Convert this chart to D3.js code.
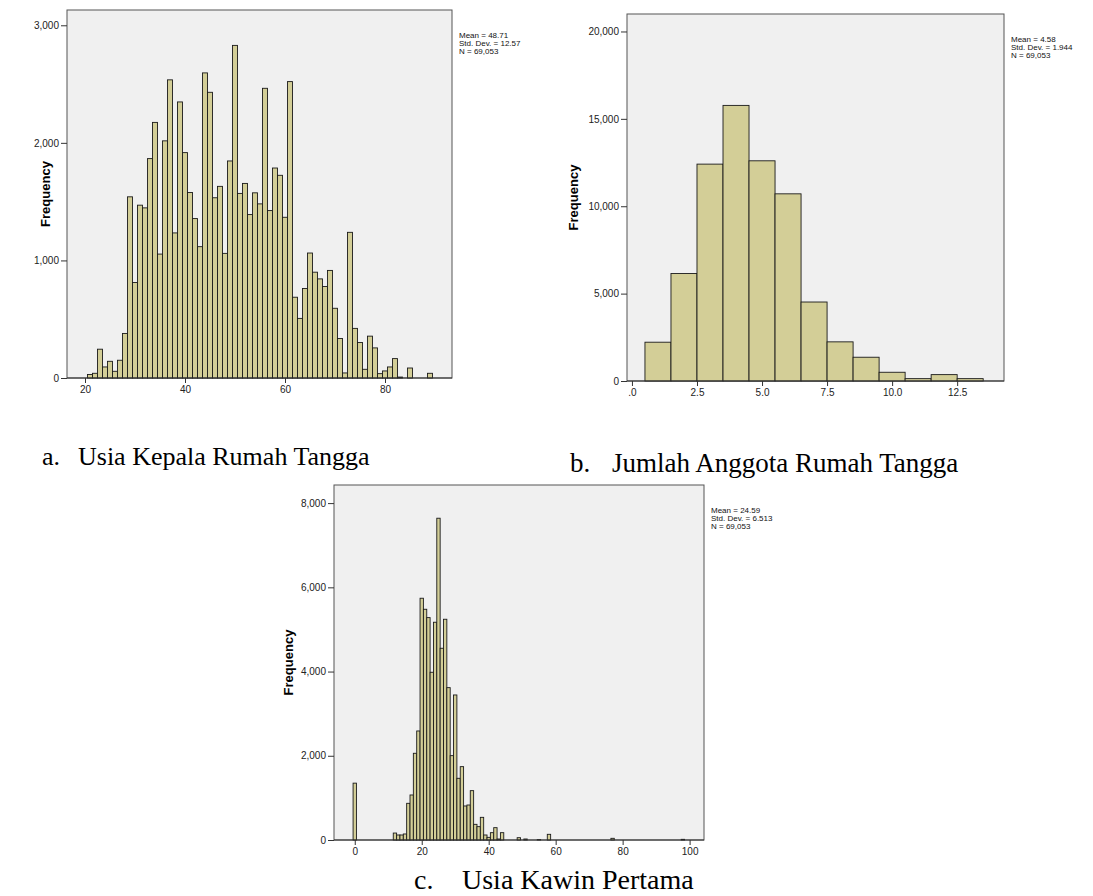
<!DOCTYPE html>
<html>
<head>
<meta charset="utf-8">
<script src="https://cdn.jsdelivr.net/npm/d3@7"></script>
<style>
  body { margin: 0; background: #fff; }
  svg text { font-family: Arial, "Liberation Sans", sans-serif; }
  .caption { font-family: "Times New Roman", "Liberation Serif", serif; fill: #000; }
</style>
</head>
<body>
<svg id="chart" width="1093" height="896"></svg>
<script>
// a. Usia Kepala Rumah Tangga - one-year bins centred on the age
var usiaKepalaAge = [21, 22, 23, 24, 25, 26, 27, 28, 29, 30, 31, 32, 33, 34, 35, 36, 37, 38, 39, 40,
  41, 42, 43, 44, 45, 46, 47, 48, 49, 50, 51, 52, 53, 54, 55, 56, 57, 58, 59, 60,
  61, 62, 63, 64, 65, 66, 67, 68, 69, 70, 71, 72, 73, 74, 75, 76, 77, 78, 79, 80,
  81, 82, 83, 85, 89];
var usiaKepalaFreq = [30, 40, 245, 94, 142, 57, 151, 379, 1541, 812, 1470, 1447, 1866, 2174, 1054, 2017, 2536, 1234, 2348, 1917,
  1578, 1356, 1117, 2595, 2430, 1533, 1630, 1060, 1846, 2829, 1570, 1655, 1390, 1575, 1481, 2464, 1424, 1786, 1724, 1367,
  2521, 687, 507, 761, 1063, 900, 843, 778, 915, 593, 336, 43, 1239, 422, 302, 74, 356, 256, 37, 60,
  94, 165, 8, 85, 40];
var usiaKepalaXTicks = [20, 40, 60, 80];
var usiaKepalaYTicks = [0, 1000, 2000, 3000];
var usiaKepalaStats = ["Mean = 48.71", "Std. Dev. = 12.57", "N = 69,053"];

// b. Jumlah Anggota Rumah Tangga
var jumlahAnggota = [1, 2, 3, 4, 5, 6, 7, 8, 9, 10, 11, 12, 13];
var jumlahAnggotaFreq = [2220, 6150, 12410, 15770, 12600, 10710, 4520, 2240, 1360, 500, 135, 365, 135];
var jumlahAnggotaXTicks = [0, 2.5, 5, 7.5, 10, 12.5];
var jumlahAnggotaXLabels = [".0", "2.5", "5.0", "7.5", "10.0", "12.5"];
var jumlahAnggotaYTicks = [0, 5000, 10000, 15000, 20000];
var jumlahAnggotaStats = ["Mean = 4.58", "Std. Dev. = 1.944", "N = 69,053"];

// c. Usia Kawin Pertama
var usiaKawin = [0, 12, 13, 14, 15, 16, 17, 18, 19, 20, 21, 22, 23, 24, 25, 26, 27, 28, 29, 30,
  31, 32, 33, 34, 35, 36, 37, 38, 39, 40, 41, 42, 43, 44, 49, 51, 55, 58, 77, 98];
var usiaKawinFreq = [1350, 165, 119, 119, 143, 871, 1069, 2059, 2589, 5741, 5479, 5281, 3983, 5171, 7641, 4553, 5242, 3618, 2003, 3444,
  1465, 1742, 808, 831, 1172, 372, 317, 538, 119, 63, 174, 293, 24, 174, 55, 24, 10, 135, 40, 16];
var usiaKawinXTicks = [0, 20, 40, 60, 80, 100];
var usiaKawinYTicks = [0, 2000, 4000, 6000, 8000];
var usiaKawinStats = ["Mean = 24.59", "Std. Dev. = 6.513", "N = 69,053"];

var svg = d3.select("#chart");
svg.append("rect").attr("width", 1093).attr("height", 896).attr("fill", "#fff");

function histogram(cfg) {
  var g = svg.append("g");
  var x = d3.scaleLinear().domain(cfg.xDomain).range([cfg.left, cfg.right]),
      y = d3.scaleLinear().domain(cfg.yDomain).range([cfg.bottom, cfg.top]);

  g.append("rect")
    .attr("x", cfg.left).attr("y", cfg.top)
    .attr("width", cfg.right - cfg.left).attr("height", cfg.bottom - cfg.top)
    .attr("fill", "#f0f0f0").attr("stroke", "#555").attr("stroke-width", 1);

  var data = cfg.bins.map(function(b, i) { return {bin: b, freq: cfg.freq[i]}; });
  g.selectAll(".bar")
    .data(data)
    .enter().append("rect")
    .attr("class", "bar")
    .attr("x", function(d) { return x(d.bin - 0.5); })
    .attr("y", function(d) { return y(d.freq); })
    .attr("width", function(d) { return x(d.bin + 0.5) - x(d.bin - 0.5); })
    .attr("height", function(d) { return y(0) - y(d.freq); })
    .attr("fill", "#d3ce97")
    .attr("stroke", "#1a1a1a")
    .attr("stroke-width", 0.9);

  var yAxis = g.append("g")
    .attr("transform", "translate(" + cfg.left + ",0)")
    .call(d3.axisLeft(y).tickValues(cfg.yTicks).tickFormat(d3.format(",")).tickSize(6).tickPadding(2));
  var xAxis = g.append("g")
    .attr("transform", "translate(0," + cfg.bottom + ")")
    .call(d3.axisBottom(x).tickValues(cfg.xTicks)
      .tickFormat(function(d, i) { return cfg.xLabels ? cfg.xLabels[i] : d; })
      .tickSize(5).tickPadding(3));
  [xAxis, yAxis].forEach(function(ax) {
    ax.select(".domain").remove();
    ax.selectAll("line").attr("stroke", "#333");
    ax.selectAll("text").attr("font-size", 10).attr("fill", "#222")
      .attr("font-family", "Arial, 'Liberation Sans', sans-serif");
  });
  g.append("line")
    .attr("x1", cfg.left).attr("x2", cfg.right)
    .attr("y1", cfg.bottom).attr("y2", cfg.bottom)
    .attr("stroke", "#333");

  g.append("text")
    .attr("transform", "translate(" + cfg.yLabelX + "," + ((cfg.top + cfg.bottom) / 2) + ") rotate(-90)")
    .attr("text-anchor", "middle")
    .attr("dy", "0.35em")
    .attr("font-size", 13)
    .attr("font-weight", "bold")
    .text("Frequency");

  // SPSS summary box, clipped on the right like the original export
  var clipId = "clip" + cfg.id;
  svg.append("clipPath").attr("id", clipId)
    .append("rect").attr("x", cfg.right + 1).attr("y", cfg.top)
    .attr("width", cfg.statsClip).attr("height", 80);
  g.append("g").attr("clip-path", "url(#" + clipId + ")")
    .selectAll("text")
    .data(cfg.stats)
    .enter().append("text")
    .attr("x", cfg.right + 7)
    .attr("y", function(d, i) { return cfg.statsY + i * 8.2; })
    .attr("font-size", 8)
    .attr("fill", "#111")
    .text(function(d) { return d; });
}

histogram({
  id: "a", left: 67, right: 452, top: 10, bottom: 378,
  xDomain: [16.4, 93.4], yDomain: [0, 3130],
  bins: usiaKepalaAge, freq: usiaKepalaFreq,
  xTicks: usiaKepalaXTicks, yTicks: usiaKepalaYTicks,
  yLabelX: 45, stats: usiaKepalaStats, statsY: 38, statsClip: 79
});

histogram({
  id: "b", left: 627, right: 1004, top: 14, bottom: 381,
  xDomain: [-0.19, 14.3], yDomain: [0, 21000],
  bins: jumlahAnggota, freq: jumlahAnggotaFreq,
  xTicks: jumlahAnggotaXTicks, xLabels: jumlahAnggotaXLabels, yTicks: jumlahAnggotaYTicks,
  yLabelX: 573, stats: jumlahAnggotaStats, statsY: 41.5, statsClip: 120
});

histogram({
  id: "c", left: 334, right: 704, top: 485, bottom: 840,
  xDomain: [-6.2, 104.3], yDomain: [0, 8430],
  bins: usiaKawin, freq: usiaKawinFreq,
  xTicks: usiaKawinXTicks, yTicks: usiaKawinYTicks,
  yLabelX: 288, stats: usiaKawinStats, statsY: 512.5, statsClip: 120
});

// figure captions
var captions = [
  {mark: "a.", text: "Usia Kepala Rumah Tangga", x0: 42, x1: 78, y: 465, size: 26},
  {mark: "b.", text: "Jumlah Anggota Rumah Tangga", x0: 570, x1: 612, y: 472, size: 27},
  {mark: "c.", text: "Usia Kawin Pertama", x0: 414, x1: 462, y: 889, size: 28}
];
captions.forEach(function(c) {
  svg.append("text").attr("class", "caption").attr("font-size", c.size)
    .attr("x", c.x0).attr("y", c.y).text(c.mark);
  svg.append("text").attr("class", "caption").attr("font-size", c.size)
    .attr("x", c.x1).attr("y", c.y).text(c.text);
});
</script>
</body>
</html>
